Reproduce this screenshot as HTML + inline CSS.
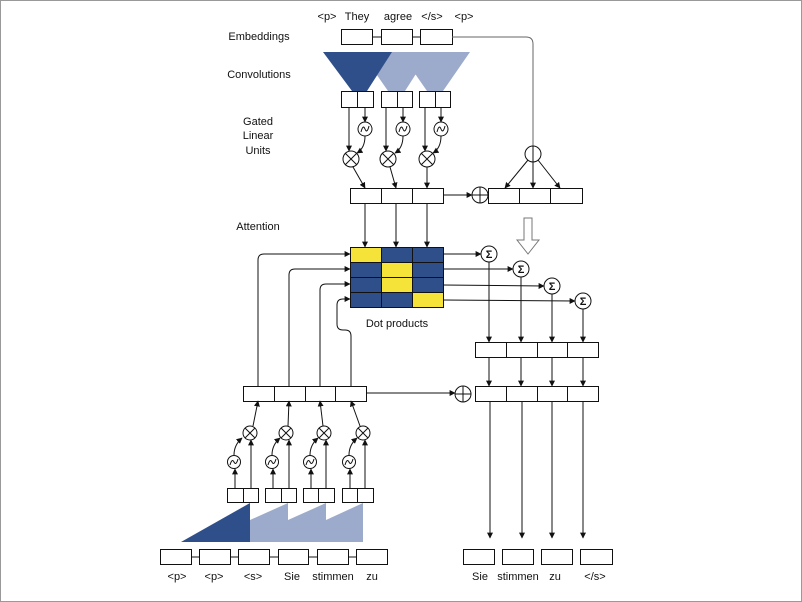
<!DOCTYPE html>
<html><head><meta charset="utf-8"><style>
html,body{margin:0;padding:0;background:#fff}
svg{display:block}
text{font-family:"Liberation Sans",sans-serif;font-size:11px;fill:#111}
</style></head><body>
<svg width="802" height="602" viewBox="0 0 802 602" xmlns="http://www.w3.org/2000/svg">
<defs>
<marker id="a" viewBox="0 0 10 10" refX="9" refY="5" markerWidth="6" markerHeight="6" orient="auto"><path d="M0,0L10,5L0,10z" fill="#111"/></marker>
</defs>
<rect x="0.5" y="0.5" width="801" height="601" fill="#fff" stroke="#999"/>
<g fill="none" stroke="#111" stroke-width="1">
<!-- top labels -->
</g>
<text x="327" y="20" text-anchor="middle" font-size="9">&lt;p&gt;</text>
<text x="357" y="20" text-anchor="middle" font-size="10">They</text>
<text x="398" y="20" text-anchor="middle" font-size="10">agree</text>
<text x="432" y="20" text-anchor="middle" font-size="9">&lt;/s&gt;</text>
<text x="464" y="20" text-anchor="middle" font-size="9">&lt;p&gt;</text>
<text x="259" y="40" text-anchor="middle">Embeddings</text>
<text x="259" y="78" text-anchor="middle">Convolutions</text>
<text x="258" y="125" text-anchor="middle">Gated</text>
<text x="258" y="139" text-anchor="middle">Linear</text>
<text x="258" y="154" text-anchor="middle">Units</text>
<text x="258" y="230" text-anchor="middle">Attention</text>
<text x="397" y="327" text-anchor="middle">Dot products</text>

<!-- conv triangles top -->
<polygon points="400,52 470,52 443,91 427,91" fill="#9cabcb"/>
<polygon points="361,52 430,52 405,91 388,91" fill="#9cabcb"/>
<polygon points="323,52 392,52 367,91 352,91" fill="#2f4f8a"/>

<g fill="#fff" stroke="#111" stroke-width="1">
<rect x="341.5" y="29.5" width="31" height="15"/>
<rect x="381.5" y="29.5" width="31" height="15"/>
<rect x="420.5" y="29.5" width="32" height="15"/>
<rect x="341.5" y="91.5" width="16" height="16"/><rect x="357.5" y="91.5" width="16" height="16"/>
<rect x="381.5" y="91.5" width="16" height="16"/><rect x="397.5" y="91.5" width="15" height="16"/>
<rect x="419.5" y="91.5" width="16" height="16"/><rect x="435.5" y="91.5" width="15" height="16"/>
<rect x="350.5" y="188.5" width="31" height="15"/><rect x="381.5" y="188.5" width="31" height="15"/><rect x="412.5" y="188.5" width="31" height="15"/>
<rect x="488.5" y="188.5" width="31" height="15"/><rect x="519.5" y="188.5" width="31" height="15"/><rect x="550.5" y="188.5" width="32" height="15"/>
</g>
<g fill="none" stroke="#111">
<line x1="372" y1="37" x2="381" y2="37"/><line x1="412" y1="37" x2="420" y2="37"/>
<path d="M452,37 H526 Q533,37 533,44 V146" stroke="#666"/>
<circle cx="533" cy="154" r="8"/>
<line x1="533" y1="146" x2="533" y2="162"/>
<line x1="528" y1="160" x2="505" y2="188" marker-end="url(#a)"/>
<line x1="533" y1="162" x2="533" y2="188" marker-end="url(#a)"/>
<line x1="538" y1="160" x2="560" y2="188" marker-end="url(#a)"/>
</g>
<!-- GLU top -->
<g fill="#fff" stroke="#111">
<circle cx="365" cy="129" r="7"/><circle cx="403" cy="129" r="7"/><circle cx="441" cy="129" r="7"/>
<circle cx="351" cy="159" r="8"/><circle cx="388" cy="159" r="8"/><circle cx="427" cy="159" r="8"/>
<circle cx="480" cy="195" r="8"/>
</g>
<g fill="none" stroke="#111">
<path d="M361,132 q2,-8 4,-3 t4,-3"/><path d="M399,132 q2,-8 4,-3 t4,-3"/><path d="M437,132 q2,-8 4,-3 t4,-3"/>
<path d="M345,153 l12,12 M357,153 l-12,12"/><path d="M382,153 l12,12 M394,153 l-12,12"/><path d="M421,153 l12,12 M433,153 l-12,12"/>
<path d="M472,195 h16 M480,187 v16"/>
<line x1="349" y1="107" x2="349" y2="151" marker-end="url(#a)"/>
<line x1="365" y1="107" x2="365" y2="122" marker-end="url(#a)"/>
<line x1="386" y1="107" x2="386" y2="151" marker-end="url(#a)"/>
<line x1="403" y1="107" x2="403" y2="122" marker-end="url(#a)"/>
<line x1="425" y1="107" x2="425" y2="151" marker-end="url(#a)"/>
<line x1="441" y1="107" x2="441" y2="122" marker-end="url(#a)"/>
<path d="M365,136 q0,12 -8,17" marker-end="url(#a)"/>
<path d="M403,136 q0,12 -8,17" marker-end="url(#a)"/>
<path d="M441,136 q0,12 -8,17" marker-end="url(#a)"/>
<line x1="353" y1="167" x2="365" y2="188" marker-end="url(#a)"/>
<line x1="390" y1="167" x2="396" y2="188" marker-end="url(#a)"/>
<line x1="427" y1="167" x2="427" y2="188" marker-end="url(#a)"/>
<line x1="443" y1="195" x2="472" y2="195" marker-end="url(#a)"/>
<line x1="365" y1="203" x2="365" y2="247" marker-end="url(#a)"/>
<line x1="396" y1="203" x2="396" y2="247" marker-end="url(#a)"/>
<line x1="427" y1="203" x2="427" y2="247" marker-end="url(#a)"/>
</g>
<!-- hollow arrow -->
<path d="M524,218 h8 v22 h7 l-11,14 l-11,-14 h7 z" fill="#fff" stroke="#777"/>
<!-- grid -->
<g stroke="#111">
<rect x="350.5" y="247.5" width="31" height="15" fill="#f5e33a"/><rect x="381.5" y="247.5" width="31" height="15" fill="#2f4f8a"/><rect x="412.5" y="247.5" width="31" height="15" fill="#2f4f8a"/>
<rect x="350.5" y="262.5" width="31" height="15" fill="#2f4f8a"/><rect x="381.5" y="262.5" width="31" height="15" fill="#f5e33a"/><rect x="412.5" y="262.5" width="31" height="15" fill="#2f4f8a"/>
<rect x="350.5" y="277.5" width="31" height="15" fill="#2f4f8a"/><rect x="381.5" y="277.5" width="31" height="15" fill="#f5e33a"/><rect x="412.5" y="277.5" width="31" height="15" fill="#2f4f8a"/>
<rect x="350.5" y="292.5" width="31" height="15" fill="#2f4f8a"/><rect x="381.5" y="292.5" width="31" height="15" fill="#2f4f8a"/><rect x="412.5" y="292.5" width="31" height="15" fill="#f5e33a"/>
</g>
<!-- sigma -->
<g fill="none" stroke="#111">
<line x1="443" y1="254" x2="481" y2="254" marker-end="url(#a)"/>
<line x1="443" y1="269" x2="513" y2="269" marker-end="url(#a)"/>
<line x1="443" y1="285" x2="544" y2="286" marker-end="url(#a)"/>
<line x1="443" y1="300" x2="575" y2="301" marker-end="url(#a)"/>
<line x1="489" y1="262" x2="489" y2="342" marker-end="url(#a)"/>
<line x1="521" y1="277" x2="521" y2="342" marker-end="url(#a)"/>
<line x1="552" y1="294" x2="552" y2="342" marker-end="url(#a)"/>
<line x1="583" y1="309" x2="583" y2="342" marker-end="url(#a)"/>
<line x1="489" y1="357" x2="489" y2="386" marker-end="url(#a)"/>
<line x1="521" y1="357" x2="521" y2="386" marker-end="url(#a)"/>
<line x1="552" y1="357" x2="552" y2="386" marker-end="url(#a)"/>
<line x1="583" y1="357" x2="583" y2="386" marker-end="url(#a)"/>
<line x1="490" y1="401" x2="490" y2="538" marker-end="url(#a)"/>
<line x1="522" y1="401" x2="522" y2="538" marker-end="url(#a)"/>
<line x1="552" y1="401" x2="552" y2="538" marker-end="url(#a)"/>
<line x1="583" y1="401" x2="583" y2="538" marker-end="url(#a)"/>
<line x1="366" y1="393" x2="455" y2="393" marker-end="url(#a)"/>
<path d="M258,386 V260 Q258,254 264,254 H350" marker-end="url(#a)"/>
<path d="M289,386 V275 Q289,269 295,269 H350" marker-end="url(#a)"/>
<path d="M320,386 V290 Q320,284 326,284 H350" marker-end="url(#a)"/>
<path d="M351,386 V336 Q351,330 345,330 H343 Q337,330 337,324 V305 Q337,299 343,299 H350" marker-end="url(#a)"/>
</g>
<g fill="#fff" stroke="#111">
<circle cx="489" cy="254" r="8"/><circle cx="521" cy="269" r="8"/><circle cx="552" cy="286" r="8"/><circle cx="583" cy="301" r="8"/>
<circle cx="463" cy="394" r="8"/>
<rect x="475.5" y="342.5" width="31" height="15"/><rect x="506.5" y="342.5" width="31" height="15"/><rect x="537.5" y="342.5" width="30" height="15"/><rect x="567.5" y="342.5" width="31" height="15"/>
<rect x="475.5" y="386.5" width="31" height="15"/><rect x="506.5" y="386.5" width="31" height="15"/><rect x="537.5" y="386.5" width="30" height="15"/><rect x="567.5" y="386.5" width="31" height="15"/>
<rect x="243.5" y="386.5" width="31" height="15"/><rect x="274.5" y="386.5" width="31" height="15"/><rect x="305.5" y="386.5" width="30" height="15"/><rect x="335.5" y="386.5" width="31" height="15"/>
</g>
<path d="M455,394 h16 M463,386 v16" stroke="#111" fill="none"/>
<g font-weight="bold" font-size="10" text-anchor="middle">
<text x="489" y="258">Σ</text><text x="521" y="273">Σ</text><text x="552" y="290">Σ</text><text x="583" y="305">Σ</text>
</g>
<!-- bottom wedges -->
<polygon points="326,520 363,503 363,542 326,542" fill="#9cabcb"/>
<polygon points="288,520 326,503 326,542 288,542" fill="#9cabcb"/>
<polygon points="250,520 288,503 288,542 250,542" fill="#9cabcb"/>
<polygon points="181,542 250,503 250,542" fill="#2f4f8a"/>
<g fill="#fff" stroke="#111">
<rect x="227.5" y="488.5" width="16" height="14"/><rect x="243.5" y="488.5" width="15" height="14"/>
<rect x="265.5" y="488.5" width="16" height="14"/><rect x="281.5" y="488.5" width="15" height="14"/>
<rect x="303.5" y="488.5" width="15" height="14"/><rect x="318.5" y="488.5" width="16" height="14"/>
<rect x="342.5" y="488.5" width="15" height="14"/><rect x="357.5" y="488.5" width="16" height="14"/>
<circle cx="234" cy="462" r="6.5"/><circle cx="272" cy="462" r="6.5"/><circle cx="310" cy="462" r="6.5"/><circle cx="349" cy="462" r="6.5"/>
<circle cx="250" cy="433" r="7"/><circle cx="286" cy="433" r="7"/><circle cx="324" cy="433" r="7"/><circle cx="363" cy="433" r="7"/>
<rect x="160.5" y="549.5" width="31" height="15"/><rect x="199.5" y="549.5" width="31" height="15"/><rect x="238.5" y="549.5" width="31" height="15"/>
<rect x="278.5" y="549.5" width="30" height="15"/><rect x="317.5" y="549.5" width="31" height="15"/><rect x="356.5" y="549.5" width="31" height="15"/>
<rect x="463.5" y="549.5" width="31" height="15"/><rect x="502.5" y="549.5" width="31" height="15"/><rect x="541.5" y="549.5" width="31" height="15"/><rect x="580.5" y="549.5" width="32" height="15"/>
</g>
<g fill="none" stroke="#111">
<path d="M191,557 h8 M230,557 h8 M269,557 h9 M308,557 h9 M348,557 h8"/>
<path d="M230,465 q2,-7 4,-3 t4,-3"/><path d="M268,465 q2,-7 4,-3 t4,-3"/><path d="M306,465 q2,-7 4,-3 t4,-3"/><path d="M345,465 q2,-7 4,-3 t4,-3"/>
<path d="M245,428 l10,10 M255,428 l-10,10"/><path d="M281,428 l10,10 M291,428 l-10,10"/><path d="M319,428 l10,10 M329,428 l-10,10"/><path d="M358,428 l10,10 M368,428 l-10,10"/>
<line x1="235" y1="488" x2="235" y2="469" marker-end="url(#a)"/><line x1="251" y1="488" x2="251" y2="440" marker-end="url(#a)"/>
<line x1="273" y1="488" x2="273" y2="469" marker-end="url(#a)"/><line x1="289" y1="488" x2="289" y2="440" marker-end="url(#a)"/>
<line x1="311" y1="488" x2="311" y2="469" marker-end="url(#a)"/><line x1="326" y1="488" x2="326" y2="440" marker-end="url(#a)"/>
<line x1="350" y1="488" x2="350" y2="469" marker-end="url(#a)"/><line x1="365" y1="488" x2="365" y2="440" marker-end="url(#a)"/>
<path d="M234,455 q0,-10 8,-17" marker-end="url(#a)"/><path d="M272,455 q0,-10 8,-17" marker-end="url(#a)"/>
<path d="M310,455 q0,-10 8,-17" marker-end="url(#a)"/><path d="M349,455 q0,-10 8,-17" marker-end="url(#a)"/>
<line x1="253" y1="426" x2="258" y2="401" marker-end="url(#a)"/><line x1="288" y1="426" x2="289" y2="401" marker-end="url(#a)"/>
<line x1="323" y1="426" x2="320" y2="401" marker-end="url(#a)"/><line x1="360" y1="426" x2="351" y2="401" marker-end="url(#a)"/>
</g>
<g font-size="10" text-anchor="middle">
<text x="177" y="580" font-size="9">&lt;p&gt;</text><text x="214" y="580" font-size="9">&lt;p&gt;</text><text x="253" y="580" font-size="9">&lt;s&gt;</text>
<text x="292" y="580">Sie</text><text x="333" y="580">stimmen</text><text x="372" y="580">zu</text>
<text x="480" y="580">Sie</text><text x="518" y="580">stimmen</text><text x="555" y="580">zu</text><text x="595" y="580" font-size="9">&lt;/s&gt;</text>
</g>
</svg>
</body></html>
